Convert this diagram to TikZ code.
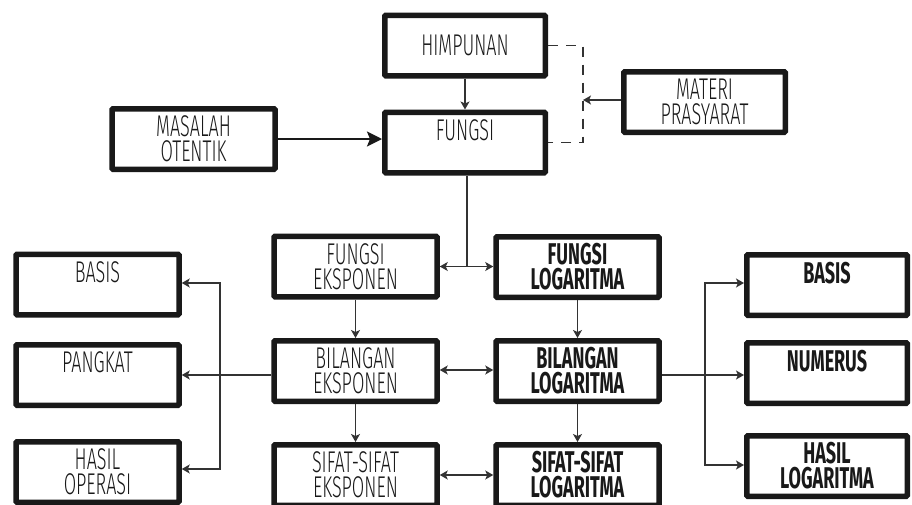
\documentclass[tikz,border=0pt]{standalone}
\usepackage{fontspec}
\setmainfont{Fira Sans}[FakeStretch=0.6, UprightFont=* Light, BoldFont=* Bold]
\usetikzlibrary{arrows.meta}

\begin{document}
\begin{tikzpicture}[x=1pt,y=-1pt,
		box/.style={draw=black!90, line width=5.5pt, rounded corners=1pt,
			minimum width=163pt, minimum height=60.5pt, align=center, inner sep=0pt,
			font=\fontsize{30}{25}\selectfont, text=black!90},
		boxb/.style={box, font=\fontsize{30}{25}\selectfont\bfseries},
		conn/.style={draw=black!80, line width=1.3pt},
		arr/.style={conn, -{Stealth[length=8pt,width=9pt,inset=2pt]}},
		dbl/.style={conn, {Stealth[length=8pt,width=9pt,inset=2pt]}-{Stealth[length=8pt,width=9pt,inset=2pt]}},
		bigarr/.style={draw=black!90, line width=2.2pt, -{Stealth[length=15pt,width=15pt,inset=3pt]}},
		dashline/.style={conn, dash pattern=on 10pt off 8pt}]
			\clip (0,0) rectangle (912,504);
			\useasboundingbox (0,0) rectangle (912,504);
			
			% atas
			\node[box, minimum width=160.5pt] (himpunan) at (465,45.5) {HIMPUNAN};
			\node[box, minimum width=160.5pt] (fungsi) at (465,142.5) {FUNGSI\\\phantom{X}};
			\node[box] (masalah) at (193.5,139) {MASALAH\\OTENTIK};
			\node[box, minimum width=161.5pt] (materi) at (704.5,102) {MATERI\\PRASYARAT};
			
			% eksponen
			\node[box] (fungsiE) at (355.5,266.5) {FUNGSI\\EKSPONEN};
			\node[box] (bilE) at (355.5,371) {BILANGAN\\EKSPONEN};
			\node[box] (sifatE) at (355.5,475) {SIFAT-SIFAT\\EKSPONEN};
			\node[box] (basisL) at (97.5,284.5) {BASIS\\\phantom{X}};
			\node[box] (pangkat) at (97.5,375) {PANGKAT\\\phantom{X}};
			\node[box] (hasilOp) at (97.5,472) {HASIL\\OPERASI};
			
			% logaritma
			\node[boxb] (fungsiL) at (577.5,267) {FUNGSI\\LOGARITMA};
			\node[boxb] (bilL) at (577.5,371) {BILANGAN\\LOGARITMA};
			\node[boxb] (sifatL) at (577.5,475) {SIFAT-SIFAT\\LOGARITMA};
			\node[boxb, minimum width=160.5pt] (basisR) at (827,285) {BASIS\\\phantom{X}};
			\node[boxb, minimum width=160.5pt] (numerus) at (827,373) {NUMERUS\\\phantom{X}};
			\node[boxb, minimum width=160.5pt] (hasilL) at (827,466) {HASIL\\LOGARITMA};
			
			\coordinate (dsh) at (583,100);
			\coordinate (jl) at (220,375);
			\coordinate (jr) at (705,375);
			
			\draw[arr] (himpunan.south) -- (fungsi.north);
			\draw[bigarr] (masalah.east) -- (masalah.east -| fungsi.west);
			\draw[dashline] (himpunan.east) -- (himpunan.east -| dsh) -- (fungsi.east -| dsh) -- (fungsi.east);
			\draw[arr] (materi.west |- dsh) -- (dsh);
			\draw[conn] ([xshift=2pt]fungsi.south) -- ([xshift=2pt]fungsi.south |- fungsiL.west);
			
			\draw[dbl] (fungsiE.east) -- (fungsiE.east -| fungsiL.west);
			\draw[dbl] ([yshift=1pt]bilE.east) -- ([yshift=1pt]bilL.west);
			\draw[dbl] (sifatE.east) -- (sifatL.west);
			\draw[arr] (fungsiE.south) -- (bilE.north);
			\draw[arr] (bilE.south) -- (sifatE.north);
			\draw[arr] (fungsiL.south) -- (bilL.north);
			\draw[arr] (bilL.south) -- (sifatL.north);
			
			\draw[conn] (bilE.west |- jl) -- (jl);
			\draw[arr] (jl) -- (pangkat.east |- jl);
			\draw[arr] (jl) |- ([yshift=1.5pt]basisL.east);
			\draw[arr] (jl) |- ([yshift=3pt]hasilOp.east);
			
			\draw[conn] (bilL.east |- jr) -- (jr);
			\draw[arr] (jr) -- (numerus.west |- jr);
			\draw[arr] (jr) |- ([yshift=2pt]basisR.west);
			\draw[arr] (jr) |- ([yshift=1pt]hasilL.west);
		\end{tikzpicture}
\end{document}
